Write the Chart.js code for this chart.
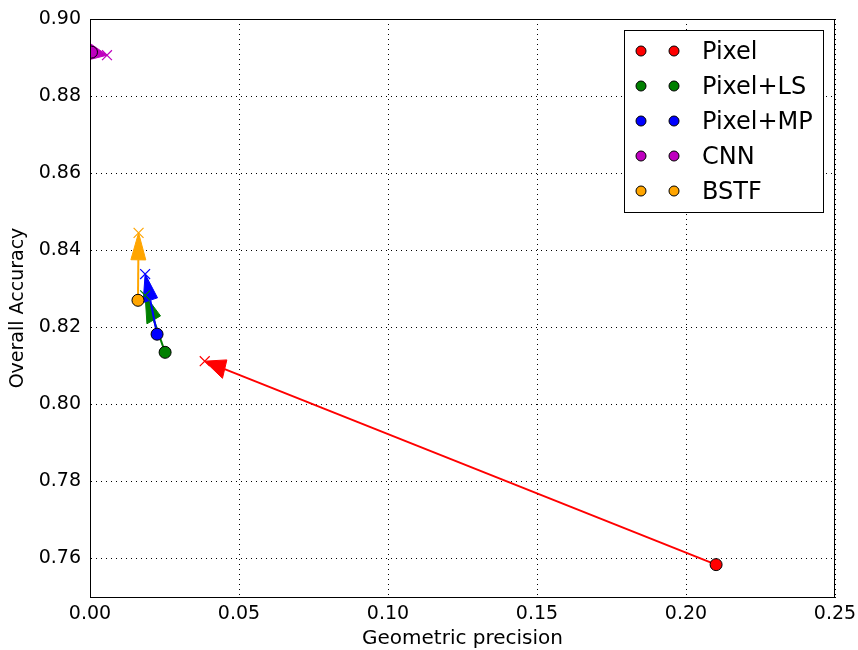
<!DOCTYPE html>
<html><head><meta charset="utf-8">
<script src="https://cdn.jsdelivr.net/npm/chart.js@4/dist/chart.umd.min.js"></script>
<style>html,body{margin:0;padding:0;background:#fff}#wrap{width:858px;height:650px}</style>
</head><body><div id="wrap"><canvas id="c" width="858" height="650"></canvas></div>
<script>
const categories = ['Pixel', 'Pixel+LS', 'Pixel+MP', 'CNN', 'BSTF'];
const colors = ['#ff0000', '#008000', '#0000ff', '#bf00bf', '#ffa500'];
// circle (start) points
const startX = [0.2101, 0.0252, 0.0225, 0.0005, 0.0161];
const startY = [0.7584, 0.8135, 0.8182, 0.8914, 0.8270];
// cross (end) points
const endX = [0.0385, 0.0185, 0.0185, 0.0057, 0.0163];
const endY = [0.8112, 0.8283, 0.8338, 0.8906, 0.8445];
const xTicks = [0.00, 0.05, 0.10, 0.15, 0.20, 0.25];
const yTicks = [0.76, 0.78, 0.80, 0.82, 0.84, 0.86, 0.88, 0.90];
const headLength = 0.007, headWidth = 0.005;

const FONT = "'DejaVu Sans', sans-serif";

const datasets = [];
categories.forEach((c, i) => {
  datasets.push({
    label: c,
    data: [{x: startX[i], y: startY[i]}],
    pointStyle: 'circle', pointRadius: 6, pointHoverRadius: 6,
    backgroundColor: colors[i], borderColor: '#000', borderWidth: 1,
    showLine: false, order: 1
  });
  datasets.push({
    label: c + ' end',
    data: [{x: endX[i], y: endY[i]}],
    pointStyle: 'crossRot', pointRadius: 7, pointHoverRadius: 7,
    backgroundColor: colors[i], borderColor: colors[i], borderWidth: 1.2,
    showLine: false, order: 2
  });
});

const arrowPlugin = {
  id: 'arrows',
  beforeDatasetsDraw(chart) {
    const {ctx, chartArea: a, scales: {x, y}} = chart;
    ctx.save();
    ctx.beginPath();
    ctx.rect(a.left, a.top, a.right - a.left, a.bottom - a.top);
    ctx.clip();
    categories.forEach((c, i) => {
      const dx = endX[i] - startX[i], dy = endY[i] - startY[i];
      const L = Math.hypot(dx, dy);
      const ux = dx / L, uy = dy / L;
      const bx = endX[i] - headLength * ux, by = endY[i] - headLength * uy;
      const px = -uy, py = ux;
      const p = (vx, vy) => [x.getPixelForValue(vx), y.getPixelForValue(vy)];
      ctx.strokeStyle = colors[i];
      ctx.fillStyle = colors[i];
      if (L > headLength) {
        const s = p(startX[i], startY[i]), b = p(bx, by);
        ctx.lineWidth = 2;
        ctx.beginPath(); ctx.moveTo(s[0], s[1]); ctx.lineTo(b[0], b[1]); ctx.stroke();
      }
      const t = p(endX[i], endY[i]);
      const b1 = p(bx + px * headWidth / 2, by + py * headWidth / 2);
      const b2 = p(bx - px * headWidth / 2, by - py * headWidth / 2);
      ctx.lineWidth = 1;
      ctx.beginPath(); ctx.moveTo(t[0], t[1]); ctx.lineTo(b1[0], b1[1]); ctx.lineTo(b2[0], b2[1]); ctx.closePath();
      ctx.fill(); ctx.stroke();
    });
    ctx.restore();
  },
  afterDraw(chart) {
    const {ctx, chartArea: a} = chart;
    ctx.save();
    ctx.strokeStyle = '#000'; ctx.lineWidth = 1;
    ctx.strokeRect(a.left + 0.5, a.top + 0.5, a.right - a.left - 1, a.bottom - a.top);
    // legend
    const lx = a.right - 211, ly = a.top + 11, lw = 199, lh = 182;
    ctx.fillStyle = '#fff';
    ctx.fillRect(lx, ly, lw, lh);
    ctx.strokeRect(lx + 0.5, ly + 0.5, lw, lh);
    ctx.font = '24px ' + FONT;
    ctx.textBaseline = 'middle';
    categories.forEach((c, i) => {
      const yy = ly + 21 + i * 35;
      [lx + 17, lx + 50].forEach(cx => {
        ctx.beginPath(); ctx.arc(cx, yy, 5, 0, Math.PI * 2);
        ctx.fillStyle = colors[i]; ctx.fill();
        ctx.strokeStyle = '#000'; ctx.lineWidth = 1; ctx.stroke();
      });
      ctx.fillStyle = '#000';
      ctx.fillText(c, lx + 78, yy + 2);
    });
    ctx.restore();
  }
};

new Chart(document.getElementById('c'), {
  type: 'scatter',
  data: {datasets},
  options: {
    responsive: false, animation: false, devicePixelRatio: 1,
    layout: {padding: {top: 19, right: 23, left: 0, bottom: 0}},
    plugins: {legend: {display: false}, tooltip: {enabled: false}},
    scales: {
      x: {
        type: 'linear', min: 0, max: 0.25,
        afterBuildTicks: s => { s.ticks = xTicks.map(v => ({value: v})); },
        afterFit: s => { s.height = 53; s.paddingRight = 0; s.paddingLeft = 0; },
        ticks: {color: '#000', font: {family: FONT, size: 19}, padding: 6, callback: v => v.toFixed(2), maxRotation: 0, autoSkip: false},
        grid: {color: '#000', lineWidth: 1, drawTicks: false, tickLength: 0},
        border: {display: true, color: '#000', width: 1, dash: [1, 4]},
        title: {display: true, text: 'Geometric precision', color: '#000', font: {family: FONT, size: 20}, padding: {top: 0, bottom: -1}}
      },
      y: {
        type: 'linear', min: 0.75, max: 0.90,
        afterBuildTicks: s => { s.ticks = yTicks.map(v => ({value: v})); },
        afterFit: s => { s.width = 90; s.paddingTop = 0; s.paddingBottom = 0; },
        ticks: {color: '#000', font: {family: FONT, size: 19}, padding: 9, callback: v => v.toFixed(2), autoSkip: false},
        grid: {color: '#000', lineWidth: 1, drawTicks: false, tickLength: 0},
        border: {display: true, color: '#000', width: 1, dash: [1, 4]},
        title: {display: true, text: 'Overall Accuracy', color: '#000', font: {family: FONT, size: 19}, padding: {top: 7, bottom: 0}}
      }
    }
  },
  plugins: [arrowPlugin]
});
</script>
</body></html>
